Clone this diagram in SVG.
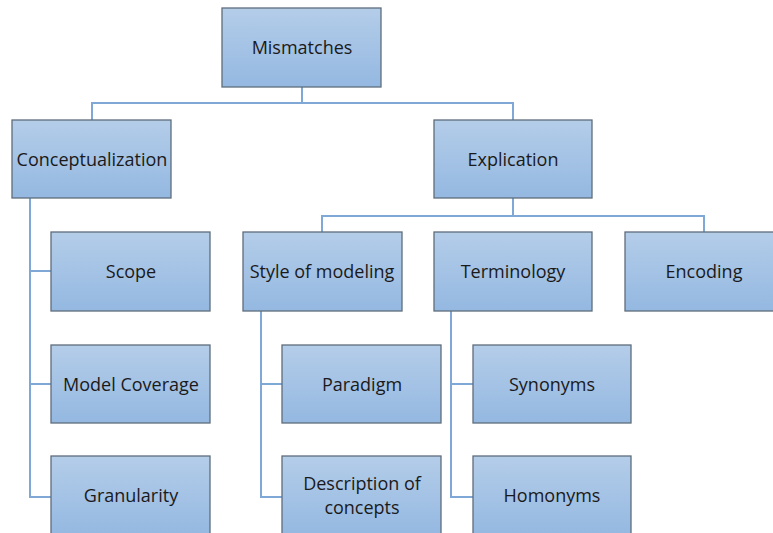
<svg xmlns="http://www.w3.org/2000/svg" width="773" height="533" viewBox="0 0 773 533">
<defs>
<linearGradient id="g" x1="0" y1="0" x2="0" y2="1">
<stop offset="0" stop-color="#b4cde9"/>
<stop offset="1" stop-color="#94b8e1"/>
</linearGradient>
<style>
.n rect{fill:url(#g);stroke:#5f6d7c;stroke-width:1.3}
.n text{font-family:"Open Sans","Liberation Sans",sans-serif;font-size:18px;fill:#1a1a1a;text-anchor:middle}
.c path{fill:none;stroke:#7fa8d6;stroke-width:2}
</style>
</defs>
<rect width="773" height="533" fill="#fff"/>
<g class="c">
<path d="M302 87V103M92 120V103H513V120"/>
<path d="M513 198V216M322 232V216H704V232"/>
<path d="M30 198V497H51M30 271H51M30 384H51"/>
<path d="M261 311V497H282M261 384H282"/>
<path d="M451 311V497H473M451 384H473"/>
</g>
<g class="n" id="mismatches"><rect x="222" y="8" width="159" height="79"/><text x="302" y="54">Mismatches</text></g>
<g class="n" id="conceptualization"><rect x="12" y="120" width="159" height="78"/><text x="92" y="166">Conceptualization</text></g>
<g class="n" id="explication"><rect x="434" y="120" width="158" height="78"/><text x="513" y="166">Explication</text></g>
<g class="n" id="scope"><rect x="51" y="232" width="159" height="79"/><text x="131" y="278">Scope</text></g>
<g class="n" id="style"><rect x="243" y="232" width="159" height="79"/><text x="322" y="278">Style of modeling</text></g>
<g class="n" id="terminology"><rect x="434" y="232" width="158" height="79"/><text x="513" y="278">Terminology</text></g>
<g class="n" id="encoding"><rect x="625" y="232" width="158" height="79"/><text x="704" y="278">Encoding</text></g>
<g class="n" id="coverage"><rect x="51" y="345" width="159" height="78"/><text x="131" y="391">Model Coverage</text></g>
<g class="n" id="paradigm"><rect x="282" y="345" width="159" height="78"/><text x="362" y="391">Paradigm</text></g>
<g class="n" id="synonyms"><rect x="473" y="345" width="158" height="78"/><text x="552" y="391">Synonyms</text></g>
<g class="n" id="granularity"><rect x="51" y="456" width="159" height="80"/><text x="131" y="502">Granularity</text></g>
<g class="n" id="description"><rect x="282" y="456" width="159" height="80"/><text x="362" y="490">Description of</text><text x="362" y="514">concepts</text></g>
<g class="n" id="homonyms"><rect x="473" y="456" width="158" height="80"/><text x="552" y="502">Homonyms</text></g>
</svg>
